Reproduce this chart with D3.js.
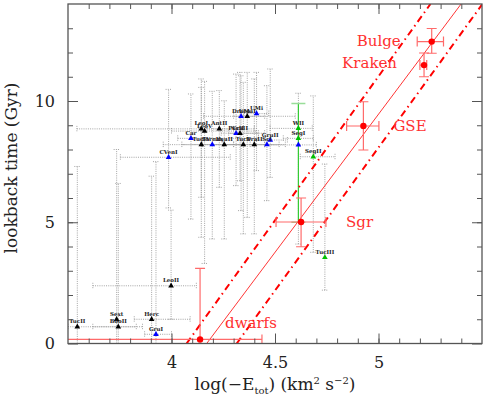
<!DOCTYPE html>
<html><head><meta charset="utf-8">
<script src="https://cdn.jsdelivr.net/npm/d3@7"></script>
<style>body{margin:0;background:#fff}svg{display:block}</style>
</head><body>
<svg id="chart" width="485" height="398"></svg>
<script>
// ---------- data ----------
const xMajorTicks = [4, 4.5, 5];
const yMajorTicks = [0, 5, 10];

// dwarf galaxies (triangles)
const dwarfNames = ["TucII","Sext","BooII","Herc","GruI","LeoII","CVenI","Car","LeoI","LeoV","AntII","TucIV","Fornax","HyaII","PscII","CraII","Draco","UMaI","UMi","TucV","DraII","Scl","GruII","","WII","SegI","SegII","TucIII"];
const dwarfX   = [3.545,3.735,3.743,3.904,3.925,3.998,3.986,4.094,4.144,4.160,4.231,4.144,4.197,4.255,4.312,4.331,4.336,4.366,4.411,4.347,4.400,4.461,4.477,4.613,4.613,4.613,4.685,4.741];
const dwarfY   = [0.69,1.00,0.69,1.00,0.38,2.38,7.68,8.46,8.85,8.76,8.85,8.20,8.20,8.20,8.67,8.67,9.37,9.37,9.48,8.20,8.20,8.20,8.39,8.19,8.87,8.46,7.70,3.55];
const dwarfXLo = [3.50,3.735,3.62,3.82,3.87,3.62,3.753,4.03,3.543,4.00,4.17,3.96,4.05,4.15,4.276,4.24,4.155,4.30,4.35,4.25,4.30,4.38,4.40,4.45,4.476,4.54,4.622,4.741];
const dwarfXHi = [3.83,3.735,3.86,4.09,4.00,4.12,4.284,4.42,4.40,4.41,4.30,4.30,4.35,4.40,4.42,4.45,4.598,4.45,4.47,4.45,4.52,4.55,4.56,4.70,4.68,4.685,4.79,4.741];
const dwarfYLo = [0.0,0.0,0.0,0.0,0.0,1.0,5.59,5.13,6.03,3.3,6.44,4.38,4.31,4.31,6.51,6.71,5.48,5.20,7.13,4.52,4.52,5.89,6.85,4.10,8.87,8.46,3.76,2.2];
const dwarfYHi = [7.3,8.0,6.6,6.9,7.5,5.5,10.48,10.29,10.91,10.81,10.43,10.56,10.40,10.01,11.11,11.18,11.04,11.18,11.18,10.77,10.91,10.63,11.32,10.32,8.87,8.46,10.21,7.4];
const dwarfGroup = ["k","k","k","k","b","k","b","b","k","k","k","k","b","k","b","k","b","k","b","k","k","b","b","b","g","g","g","g"];

// Sagittarius-associated (green) time range
const greenRange = [5.0, 9.9];
const greenX = 4.613;

// main accreted systems (red)
const mainNames = ["dwarfs","Sgr","GSE","Kraken","Bulge"];
const mainX   = [4.138,4.626,4.927,5.220,5.257];
const mainY   = [0.17,5.01,8.97,11.48,12.45];
const mainXLo = [3.40,4.505,4.846,5.200,5.187];
const mainXHi = [4.437,4.746,5.002,5.233,5.314];
const mainYLo = [-1.0,3.99,7.98,11.00,11.97];
const mainYHi = [3.10,6.00,9.97,11.98,12.99];

// energy-time relations: x at t=0 and t=14 Gyr
const relStyle = ["dashdot","solid","dashdot"];
const relXAt0  = [4.073,4.170,4.315];
const relXAt14 = [5.251,5.399,5.502];
const relT = [0, 14];

// ---------- chart ----------
const svg = d3.select("#chart");
const x = d3.scaleLinear().domain([3.5,5.5]).range([68,482]);
const y = d3.scaleLinear().domain([0,14]).range([343.5,4]);
const FONT = "'DejaVu Serif', serif";
const axisCol = "#555";

svg.append("defs").append("clipPath").attr("id","clip")
  .append("rect").attr("x",68).attr("y",4).attr("width",414).attr("height",339.5);

const plot = svg.append("g").attr("clip-path","url(#clip)");

// dotted error bars
const gray = "#9a9a9a";
const eb = plot.append("g").attr("stroke",gray).attr("stroke-width",0.9).attr("stroke-dasharray","1,1.2").attr("fill","none");
dwarfNames.forEach((n,i)=>{
  const cx = x(dwarfX[i]), cy = y(dwarfY[i]);
  if (dwarfYHi[i] > dwarfYLo[i]) {
    eb.append("line").attr("x1",cx).attr("x2",cx).attr("y1",y(dwarfYLo[i])).attr("y2",y(dwarfYHi[i]));
    [dwarfYLo[i],dwarfYHi[i]].forEach(v=>eb.append("line").attr("x1",cx-3).attr("x2",cx+3).attr("y1",y(v)).attr("y2",y(v)));
  }
  if (dwarfXHi[i] > dwarfXLo[i]) {
    eb.append("line").attr("y1",cy).attr("y2",cy).attr("x1",x(dwarfXLo[i])).attr("x2",x(dwarfXHi[i]));
    [dwarfXLo[i],dwarfXHi[i]].forEach(v=>eb.append("line").attr("y1",cy-3).attr("y2",cy+3).attr("x1",x(v)).attr("x2",x(v)));
  }
});

// green range
const gcol = "#33cc33";
plot.append("line").attr("x1",x(greenX)).attr("x2",x(greenX)).attr("y1",y(greenRange[0])).attr("y2",y(greenRange[1]))
  .attr("stroke",gcol).attr("stroke-width",1.2);
greenRange.forEach(v=>plot.append("line").attr("x1",x(greenX)-7).attr("x2",x(greenX)+7).attr("y1",y(v)).attr("y2",y(v))
  .attr("stroke","#99dd99").attr("stroke-width",1.5));

// triangles
const colMap = {k:"#000000", b:"#0000ff", g:"#00c000"};
const tri = d3.symbol().type(d3.symbolTriangle).size(14);
plot.append("g").selectAll("path").data(dwarfNames.map((n,i)=>i)).join("path")
  .attr("d",tri).attr("transform",i=>`translate(${x(dwarfX[i])},${y(dwarfY[i])})`)
  .attr("fill",i=>colMap[dwarfGroup[i]]);
plot.append("g").selectAll("text").data(dwarfNames.map((n,i)=>i)).join("text")
  .attr("x",i=>x(dwarfX[i])).attr("y",i=>y(dwarfY[i])-3.5)
  .attr("text-anchor","middle").attr("font-family",FONT).attr("font-size",5.5).attr("font-weight","bold")
  .attr("fill","#222").text(i=>dwarfNames[i]);

// relations
relStyle.forEach((s,i)=>{
  plot.append("line")
    .attr("x1",x(relXAt0[i])).attr("y1",y(relT[0]))
    .attr("x2",x(relXAt14[i])).attr("y2",y(relT[1]))
    .attr("stroke","#ff0000")
    .attr("stroke-width",s==="solid"?0.8:2)
    .attr("stroke-dasharray",s==="solid"?null:"7,4,1.5,4");
});

// red error bars and points
const rcol = "#ff0000", recol = "#ff6a6a";
const reb = plot.append("g").attr("stroke",recol).attr("stroke-width",1.2);
mainNames.forEach((n,i)=>{
  const cx = x(mainX[i]), cy = y(mainY[i]);
  reb.append("line").attr("x1",cx).attr("x2",cx).attr("y1",y(mainYLo[i])).attr("y2",y(mainYHi[i]));
  [mainYLo[i],mainYHi[i]].forEach(v=>reb.append("line").attr("x1",cx-5).attr("x2",cx+5).attr("y1",y(v)).attr("y2",y(v)));
  reb.append("line").attr("y1",cy).attr("y2",cy).attr("x1",x(mainXLo[i])).attr("x2",x(mainXHi[i]));
  [mainXLo[i],mainXHi[i]].forEach(v=>reb.append("line").attr("y1",cy-5).attr("y2",cy+5).attr("x1",x(v)).attr("x2",x(v)));
});
plot.append("g").selectAll("circle").data(mainNames.map((n,i)=>i)).join("circle")
  .attr("cx",i=>x(mainX[i])).attr("cy",i=>y(mainY[i])).attr("r",3.2).attr("fill",rcol);

// red labels (offsets relative to points)
const labelDx = [ 25,  45, 30, -27, -31];
const labelDy = [-11.5, 5,  5,   3,   4];
const labelAnchor = ["start","start","start","end","end"];
svg.append("g").selectAll("text").data(mainNames.map((n,i)=>i)).join("text")
  .attr("x",i=>x(mainX[i])+labelDx[i]).attr("y",i=>y(mainY[i])+labelDy[i])
  .attr("text-anchor",i=>labelAnchor[i]).attr("font-family",FONT).attr("font-size",15)
  .attr("fill","#ff3030").text(i=>mainNames[i]);

// ---------- axes ----------
function styleAxis(g){ g.select(".domain").remove(); g.selectAll("line").attr("stroke",axisCol).attr("stroke-width",1);
  g.selectAll("text").attr("font-family",FONT).attr("font-size",16).attr("fill","#222"); }
const minorX = d3.range(36,55).map(v=>v/10);
const minorY = d3.range(1,14);
svg.append("g").attr("transform","translate(0,343.5)").call(d3.axisBottom(x).tickValues(minorX).tickSize(-5).tickFormat("")).call(styleAxis);
svg.append("g").attr("transform","translate(0,343.5)").call(d3.axisBottom(x).tickValues(xMajorTicks).tickSize(-10).tickPadding(13).tickFormat(d3.format(""))).call(styleAxis);
svg.append("g").attr("transform","translate(0,4)").call(d3.axisTop(x).tickValues(minorX).tickSize(-5).tickFormat("")).call(styleAxis);
svg.append("g").attr("transform","translate(0,4)").call(d3.axisTop(x).tickValues(xMajorTicks).tickSize(-10).tickFormat("")).call(styleAxis);
svg.append("g").attr("transform","translate(68,0)").call(d3.axisLeft(y).tickValues(minorY).tickSize(-5).tickFormat("")).call(styleAxis);
svg.append("g").attr("transform","translate(68,0)").call(d3.axisLeft(y).tickValues(yMajorTicks).tickSize(-10).tickPadding(13).tickFormat(d3.format("d"))).call(styleAxis);
svg.append("g").attr("transform","translate(482,0)").call(d3.axisRight(y).tickValues(minorY).tickSize(-5).tickFormat("")).call(styleAxis);
svg.append("g").attr("transform","translate(482,0)").call(d3.axisRight(y).tickValues(yMajorTicks).tickSize(-10).tickFormat("")).call(styleAxis);

svg.append("rect").attr("x",68).attr("y",4).attr("width",414).attr("height",339.5)
  .attr("fill","none").attr("stroke",axisCol).attr("stroke-width",1.3);

// axis titles
svg.append("text").attr("transform","translate(17,168) rotate(-90)").attr("text-anchor","middle")
  .attr("font-family",FONT).attr("font-size",17).attr("fill","#222").text("lookback time (Gyr)");
const xt = svg.append("text").attr("x",275).attr("y",390).attr("text-anchor","middle")
  .attr("font-family",FONT).attr("font-size",17).attr("fill","#222");
xt.append("tspan").text("log(−E");
xt.append("tspan").attr("font-size",10).attr("dy",4).text("tot");
xt.append("tspan").attr("dy",-4).text(") (km");
xt.append("tspan").attr("font-size",10).attr("dy",-6).text("2");
xt.append("tspan").attr("dy",6).text(" s");
xt.append("tspan").attr("font-size",10).attr("dy",-6).text("−2");
xt.append("tspan").attr("dy",6).text(")");
</script>
</body></html>
